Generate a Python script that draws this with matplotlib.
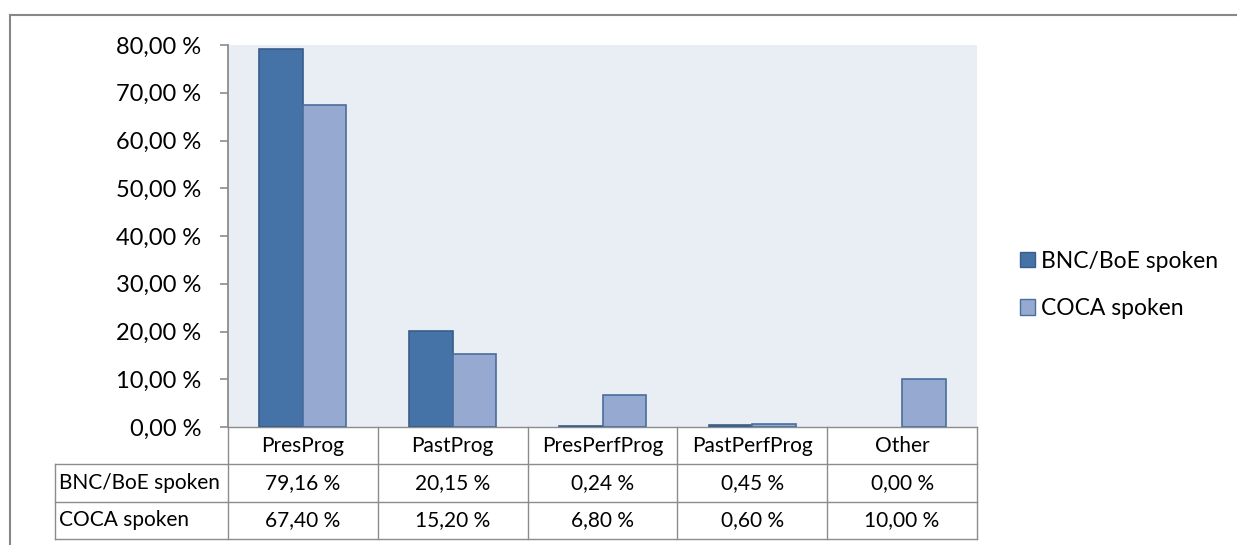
import matplotlib.pyplot as plt
from matplotlib.lines import Line2D
from matplotlib.patches import Patch
from matplotlib.ticker import FuncFormatter
import matplotlib.transforms as mtrans

plt.rcParams['font.family'] = ['Lato', 'DejaVu Sans']

categories = ['PresProg', 'PastProg', 'PresPerfProg', 'PastPerfProg', 'Other']
series_names = ['BNC/BoE spoken', 'COCA spoken']
bnc_values = [79.16, 20.15, 0.24, 0.45, 0.00]
coca_values = [67.40, 15.20, 6.80, 0.60, 10.00]
y_ticks = [0, 10, 20, 30, 40, 50, 60, 70, 80]

dark_fill = '#4572A7'
dark_edge = '#385D8A'
light_fill = '#95A9D1'
light_edge = '#4A6E9E'
grid_gray = '#8C8C8C'

W, H = 1237, 545
fig = plt.figure(figsize=(W / 100, H / 100), dpi=100)


def fx(px):
    return px / W


def fy(py):
    return 1 - py / H


ax = fig.add_axes([fx(228), fy(427), fx(977) - fx(228), fy(45) - fy(427)])
ax.set_facecolor('#E9EDF4')

x = list(range(len(categories)))
bw = 0.29
# no outline for empty bars (Excel draws nothing at 0)
ax.bar([i - bw / 2 for i in x], bnc_values, width=bw, color=dark_fill,
       edgecolor=dark_edge, linewidth=[1.2 if v > 0 else 0 for v in bnc_values],
       label=series_names[0], zorder=3)
ax.bar([i + bw / 2 for i in x], coca_values, width=bw, color=light_fill,
       edgecolor=light_edge, linewidth=[1.2 if v > 0 else 0 for v in coca_values],
       label=series_names[1], zorder=3)

ax.set_xlim(-0.5, len(categories) - 0.5)
ax.set_ylim(0, 80)
ax.set_yticks(y_ticks)
ax.yaxis.set_major_formatter(FuncFormatter(lambda v, p: f'{v:.2f} %'.replace('.', ',')))
ax.set_xticks([])
for s in ['top', 'right']:
    ax.spines[s].set_visible(False)
ax.spines['left'].set_color(grid_gray)
ax.spines['left'].set_linewidth(1.3)
ax.spines['bottom'].set_color(grid_gray)
ax.spines['bottom'].set_linewidth(1.0)
ax.tick_params(axis='y', direction='out', length=6, width=1.2, color=grid_gray,
               pad=13, labelsize=17, labelcolor='black')

# data table below the plot
tr = mtrans.blended_transform_factory(ax.transData, fig.transFigure)
row_edges = [427, 464, 502, 539]
col_edges = [i - 0.5 for i in range(len(categories) + 1)]
line_kw = dict(color=grid_gray, linewidth=1.0)

for c in col_edges:
    fig.add_artist(Line2D([c, c], [fy(row_edges[0]), fy(row_edges[-1])], transform=tr, **line_kw))
for r in row_edges[1:]:
    fig.add_artist(Line2D([fx(55), fx(977)], [fy(r), fy(r)], transform=fig.transFigure, **line_kw))
fig.add_artist(Line2D([fx(55), fx(55)], [fy(row_edges[1]), fy(row_edges[-1])],
                      transform=fig.transFigure, **line_kw))

tsize = 15
for i, cat in enumerate(categories):
    yc = fy((row_edges[0] + row_edges[1]) / 2)
    fig.text(i, yc, cat, transform=tr, ha='center', va='center', fontsize=tsize)
for r, (name, vals) in enumerate(zip(series_names, [bnc_values, coca_values])):
    yc = fy((row_edges[r + 1] + row_edges[r + 2]) / 2)
    fig.text(fx(59), yc, name, ha='left', va='center', fontsize=tsize)
    for i, v in enumerate(vals):
        fig.text(i, yc, f'{v:.2f} %'.replace('.', ','), transform=tr,
                 ha='center', va='center', fontsize=tsize)

# legend
handles = [Patch(facecolor=dark_fill, edgecolor=dark_edge),
           Patch(facecolor=light_fill, edgecolor=light_edge)]
fig.legend(handles, series_names, loc='center left',
           bbox_to_anchor=(fx(1020), fy(285)), frameon=False, fontsize=16.5,
           borderpad=0, borderaxespad=0,
           handlelength=0.65, handleheight=0.65, handletextpad=0.28, labelspacing=1.15)

# outer chart frame (partly cropped)
fig.add_artist(Line2D([fx(10), 1], [fy(15), fy(15)], transform=fig.transFigure,
                      color='#878787', linewidth=1.5))
fig.add_artist(Line2D([fx(10), fx(10)], [0, fy(15)], transform=fig.transFigure,
                      color='#878787', linewidth=1.5))

fig.savefig('out.png', dpi=100)
